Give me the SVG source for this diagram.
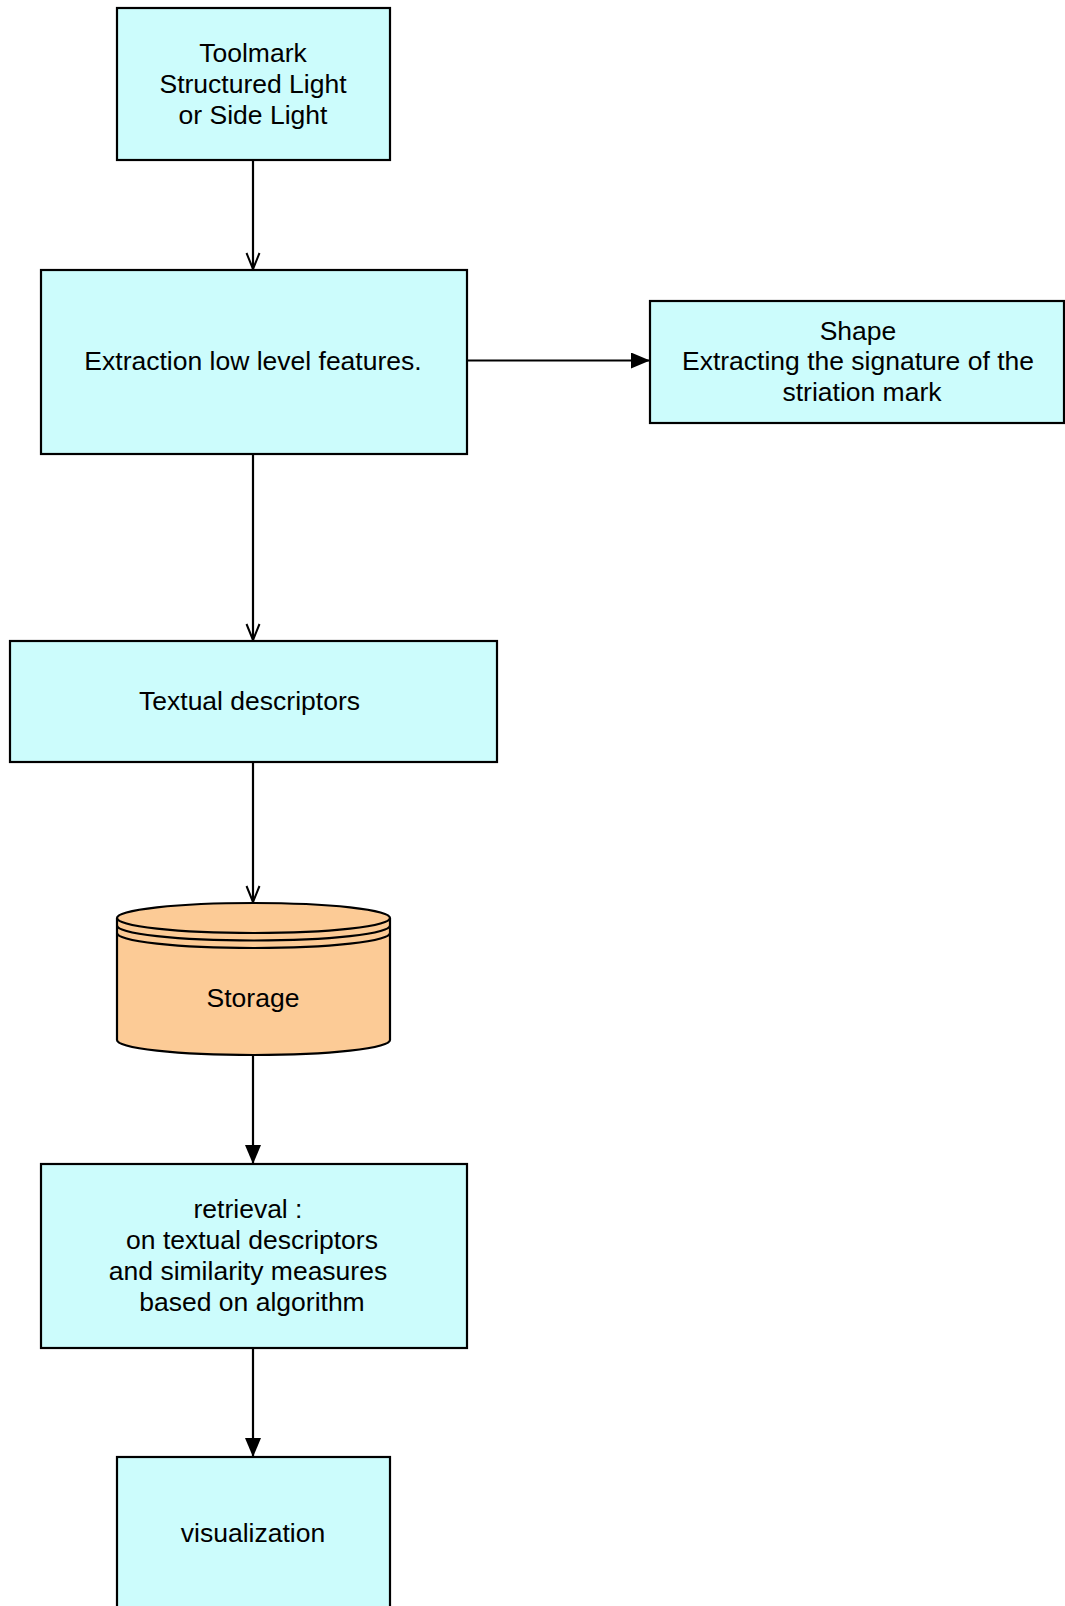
<svg xmlns="http://www.w3.org/2000/svg" width="1065" height="1606" viewBox="0 0 1065 1606">
  <style>
    .box { fill: #ccfcfc; stroke: #000; stroke-width: 2.2; }
    .db { fill: #fccb96; stroke: #000; stroke-width: 2.2; }
    .lbl { font-family: "Liberation Sans", Arial, sans-serif; font-size: 26.5px; fill: #000; text-anchor: middle; }
    .edge { fill: none; stroke: #000; stroke-width: 2.2; }
  </style>
  <defs>
    <marker id="filled" markerUnits="userSpaceOnUse" markerWidth="20" markerHeight="18" refX="19" refY="8" orient="auto">
      <path d="M0,0 L19,8 L0,16 z" fill="#000"/>
    </marker>
    <marker id="open" markerUnits="userSpaceOnUse" markerWidth="20" markerHeight="18" refX="17" refY="8" orient="auto">
      <path d="M1,1.5 L17,8 L1,14.5" fill="none" stroke="#000" stroke-width="2"/>
    </marker>
  </defs>
  <rect width="1065" height="1606" fill="#fff"/>

  <g id="connectors">
    <line class="edge" x1="253" y1="161" x2="253" y2="269" marker-end="url(#open)"/>
    <line class="edge" x1="467" y1="360.5" x2="650" y2="360.5" marker-end="url(#filled)"/>
    <line class="edge" x1="253" y1="454" x2="253" y2="640" marker-end="url(#open)"/>
    <line class="edge" x1="253" y1="763" x2="253" y2="902" marker-end="url(#open)"/>
    <line class="edge" x1="253" y1="1055" x2="253" y2="1164" marker-end="url(#filled)"/>
    <line class="edge" x1="253" y1="1348" x2="253" y2="1457" marker-end="url(#filled)"/>
  </g>

  <g id="toolmark">
    <rect class="box" x="117" y="8" width="273" height="152"/>
    <text class="lbl" x="253" y="62">Toolmark</text>
    <text class="lbl" x="253" y="93">Structured Light</text>
    <text class="lbl" x="253" y="124">or Side Light</text>
  </g>

  <g id="extraction">
    <rect class="box" x="41" y="270" width="426" height="184"/>
    <text class="lbl" x="253" y="369.5">Extraction low level features.</text>
  </g>

  <g id="shape">
    <rect class="box" x="650" y="301" width="414" height="122"/>
    <text class="lbl" x="858" y="340">Shape</text>
    <text class="lbl" x="858" y="370">Extracting the signature of the</text>
    <text class="lbl" x="862" y="401">striation mark</text>
  </g>

  <g id="textual">
    <rect class="box" x="10" y="641" width="487" height="121"/>
    <text class="lbl" x="249.5" y="710">Textual descriptors</text>
  </g>

  <g id="storage">
    <path class="db" d="M117,918 A136.5,15 0 0 1 390,918 L390,1040 A136.5,15 0 0 1 117,1040 Z"/>
    <path class="edge" d="M117,918 A136.5,15 0 0 0 390,918"/>
    <path class="edge" d="M117,925.5 A136.5,15 0 0 0 390,925.5"/>
    <path class="edge" d="M117,933 A136.5,15 0 0 0 390,933"/>
    <text class="lbl" x="253" y="1007">Storage</text>
  </g>

  <g id="retrieval">
    <rect class="box" x="41" y="1164" width="426" height="184"/>
    <text class="lbl" x="248" y="1218">retrieval :</text>
    <text class="lbl" x="252" y="1249">on textual descriptors</text>
    <text class="lbl" x="248" y="1280">and similarity measures</text>
    <text class="lbl" x="252" y="1311">based on algorithm</text>
  </g>

  <g id="visualization">
    <rect class="box" x="117" y="1457" width="273" height="152"/>
    <text class="lbl" x="253" y="1542">visualization</text>
  </g>
</svg>
